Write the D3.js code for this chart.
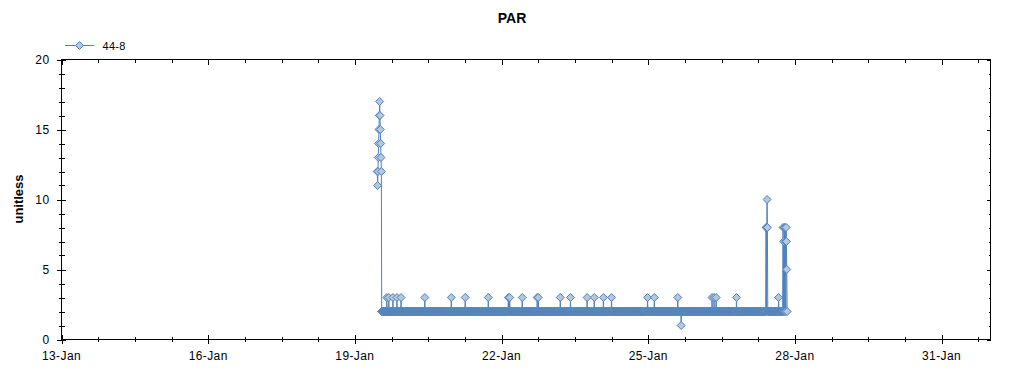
<!DOCTYPE html>
<html>
<head>
<meta charset="utf-8">
<script src="https://cdn.jsdelivr.net/npm/d3@7"></script>
<style>
  html, body { margin: 0; padding: 0; background: #fff; }
  svg { display: block; font-family: "Liberation Sans", Arial, sans-serif; }
</style>
</head>
<body>
<svg id="chart" width="1024" height="375"></svg>
<script>
// ---------------- data ----------------
const chartTitle = "PAR";
const yAxisTitle = "unitless";
const seriesName = "44-8";
const xDomain = ["2013-01-13T00:00:00Z", "2013-02-01T00:00:00Z"];
const yDomain = [0, 20];
const yMajorTicks = [0, 5, 10, 15, 20];
const xMajorTickDates = ["2013-01-13", "2013-01-16", "2013-01-19", "2013-01-22", "2013-01-25", "2013-01-28", "2013-01-31"];
const sampleStart = "2013-01-19T11:00:00Z";
const sampleStepMinutes = 10;
// run-length encoded readings: [value, number of consecutive samples]
const valueRuns = [
  [12,1],[11,1],[12,1],[13,1],[14,1],[15,1],[16,1],[17,1],[16,1],[15,1],[14,1],[13,1],[12,1],
  [2,15],[3,1],[2,5],[3,1],[2,11],[3,1],[2,11],[3,1],[2,11],[3,1],
  [2,69],[3,1],[2,77],[3,1],[2,40],[3,1],[2,67],[3,1],[2,58],[3,1],[2,3],[3,1],
  [2,36],[3,1],[2,43],[3,1],[2,2],[3,1],[2,64],[3,1],[2,29],[3,1],[2,48],[3,1],
  [2,20],[3,1],[2,26],[3,1],[2,23],[3,1],[2,105],[3,1],[2,19],[3,1],[2,68],[3,1],
  [2,9],[1,1],[2,90],[3,1],[2,5],[3,1],[2,5],[3,1],[2,59],[3,1],
  [2,86],[8,1],[2,1],[8,1],[10,1],[8,1],[2,32],[3,1],[2,12],
  [8,1],[2,1],[7,1],[2,1],[8,1],[2,1],[8,1],[7,1],[2,1],[8,1],[7,1],[5,1],[2,1]
];

// ---------------- decode series ----------------
const t0 = new Date(sampleStart).getTime();
const points = [];
valueRuns.forEach(([v, n]) => {
  for (let i = 0; i < n; i++) {
    points.push({ t: new Date(t0 + points.length * sampleStepMinutes * 60000), v: v });
  }
});

// ---------------- layout ----------------
const L = 61.5, R = 990.5, T = 59.5, B = 339.5;
const lineColor = "#4f81bd";
const markerFill = "#b4c8dc";
const svg = d3.select("#chart");

const x = d3.scaleUtc().domain(xDomain.map(d => new Date(d))).range([L, R]);
const y = d3.scaleLinear().domain(yDomain).range([B, T]);

const xMajors = xMajorTickDates.map(d => new Date(d + "T00:00:00Z"));
const xMinors = d3.utcHour.every(18).range(new Date(xDomain[0]), new Date(xDomain[1]))
  .filter(d => (d - new Date(xDomain[0])) % (18 * 3600000) === 0);
const xMinorTicks = [];
for (let t = new Date(xDomain[0]).getTime(); t < new Date(xDomain[1]).getTime(); t += 18 * 3600000) {
  if (!xMajors.some(m => m.getTime() === t)) xMinorTicks.push(new Date(t));
}
const yMinorTicks = d3.range(yDomain[0], yDomain[1] + 1).filter(v => !yMajorTicks.includes(v));

// frame
svg.append("rect").attr("x", L).attr("y", T).attr("width", R - L).attr("height", B - T)
  .attr("fill", "none").attr("stroke", "#000").attr("stroke-width", 1).attr("shape-rendering", "crispEdges");

function tickLines(g, data, fn) {
  g.selectAll(null).data(data).enter().append("line")
    .each(function(d) { const a = fn(d); d3.select(this).attr("x1", a[0]).attr("y1", a[1]).attr("x2", a[2]).attr("y2", a[3]); })
    .attr("stroke", "#000").attr("stroke-width", 1).attr("shape-rendering", "crispEdges");
}
const ticks = svg.append("g");
// bottom
tickLines(ticks, xMajors, d => [Math.round(x(d)) + 0.5, B - 5, Math.round(x(d)) + 0.5, B + 4]);
tickLines(ticks, xMinorTicks, d => [Math.round(x(d)) + 0.5, B - 3, Math.round(x(d)) + 0.5, B + 2]);
// top
tickLines(ticks, xMajors, d => [Math.round(x(d)) + 0.5, T, Math.round(x(d)) + 0.5, T + 5]);
tickLines(ticks, xMinorTicks, d => [Math.round(x(d)) + 0.5, T, Math.round(x(d)) + 0.5, T + 3]);
// left
tickLines(ticks, yMajorTicks, d => [L - 5, Math.round(y(d)) + 0.5, L + 4, Math.round(y(d)) + 0.5]);
tickLines(ticks, yMinorTicks, d => [L - 3, Math.round(y(d)) + 0.5, L + 3, Math.round(y(d)) + 0.5]);
// right
tickLines(ticks, yMajorTicks, d => [R - 4, Math.round(y(d)) + 0.5, R, Math.round(y(d)) + 0.5]);
tickLines(ticks, yMinorTicks, d => [R - 2, Math.round(y(d)) + 0.5, R, Math.round(y(d)) + 0.5]);

// tick labels
const fmt = d3.utcFormat("%d-%b");
svg.append("g").selectAll("text").data(xMajors).enter().append("text")
  .attr("x", d => x(d)).attr("y", 360).attr("text-anchor", "middle")
  .attr("font-size", 12).attr("letter-spacing", 0.4).attr("fill", "#000").text(d => fmt(d));
svg.append("g").selectAll("text").data(yMajorTicks).enter().append("text")
  .attr("x", L - 12).attr("y", d => y(d) + 4.3).attr("text-anchor", "end")
  .attr("font-size", 12).attr("letter-spacing", 0.4).attr("fill", "#000").text(d => d);

// titles
svg.append("text").attr("x", 512).attr("y", 23).attr("text-anchor", "middle")
  .attr("font-size", 14).attr("font-weight", "bold").text(chartTitle);
svg.append("text").attr("transform", "translate(23,199) rotate(-90)").attr("text-anchor", "middle")
  .attr("font-size", 13).attr("font-weight", "bold").text(yAxisTitle);

// series
const diamond = "M0,-4L4,0L0,4L-4,0Z";
const line = d3.line().x(d => x(d.t)).y(d => y(d.v));
svg.append("path").datum(points).attr("d", line)
  .attr("fill", "none").attr("stroke", lineColor).attr("stroke-width", 1);
svg.append("g").selectAll("path").data(points).enter().append("path")
  .attr("transform", d => `translate(${x(d.t)},${y(d.v)})`)
  .attr("d", diamond).attr("fill", markerFill).attr("stroke", lineColor).attr("stroke-width", 1);

// legend
const lg = svg.append("g");
lg.append("line").attr("x1", 65).attr("x2", 94).attr("y1", 45.5).attr("y2", 45.5)
  .attr("stroke", lineColor).attr("stroke-width", 1);
lg.append("path").attr("transform", "translate(79.5,45.5)").attr("d", diamond)
  .attr("fill", markerFill).attr("stroke", lineColor).attr("stroke-width", 1);
lg.append("text").attr("x", 102.5).attr("y", 49.5).attr("font-size", 11).attr("letter-spacing", 0.3).text(seriesName);
</script>
</body>
</html>
